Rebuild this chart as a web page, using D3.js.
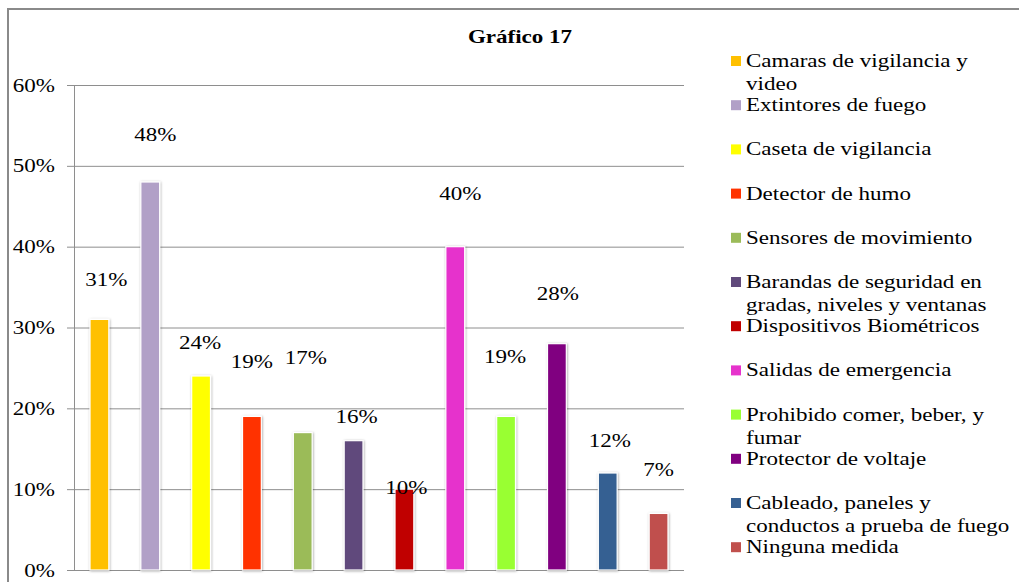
<!DOCTYPE html>
<html>
<head>
<meta charset="utf-8">
<script src="https://cdn.jsdelivr.net/npm/d3@7"></script>
<style>
  html, body { margin: 0; padding: 0; background: #fff; }
  svg { display: block; }
</style>
</head>
<body>
<svg id="chart" width="1019" height="582"></svg>
<script>
// Security measures reported (share of respondents)
const categories = [
  "Camaras de vigilancia y\nvideo",
  "Extintores de fuego",
  "Caseta de vigilancia",
  "Detector de humo",
  "Sensores de movimiento",
  "Barandas de seguridad en\ngradas, niveles y  ventanas",
  "Dispositivos Biométricos",
  "Salidas de emergencia",
  "Prohibido comer, beber, y\nfumar",
  "Protector de voltaje",
  "Cableado, paneles y\nconductos a prueba de fuego",
  "Ninguna medida"
];
const values = [0.31, 0.48, 0.24, 0.19, 0.17, 0.16, 0.10, 0.40, 0.19, 0.28, 0.12, 0.07];
const colors = ["#FFC000", "#B1A0C7", "#FFFF00", "#FF3300", "#9BBB59", "#604A7B",
                "#C00000", "#E633CC", "#99FF33", "#800080", "#366092", "#C0504D"];
const yTicks = [0, 0.1, 0.2, 0.3, 0.4, 0.5, 0.6];
const title = "Gráfico 17";

// Label placement nudges (px) relative to bar centre / bar top
const labelNudge = [[7, -39], [5, -47], [-1, -33], [0, -54], [3, -75], [3, -24],
                    [2, -1], [5, -53], [-1, -59], [1, -50], [2, -32], [0, -43]];

const SERIF = "'Liberation Serif', 'Times New Roman', 'DejaVu Serif', serif";
const STRETCH = 1.28;       // wide typeface look
const FONT = 18;

const svg = d3.select("#chart");
svg.append("rect").attr("width", 1019).attr("height", 582).attr("fill", "#fff");

// Drop shadow used around the bars
const defs = svg.append("defs");
const f = defs.append("filter").attr("id", "barShadow")
  .attr("x", "-30%").attr("y", "-10%").attr("width", "160%").attr("height", "120%");
f.append("feDropShadow").attr("dx", 0.6).attr("dy", 0.6)
  .attr("stdDeviation", 0.9).attr("flood-color", "#000").attr("flood-opacity", 0.35);

// Chart frame
svg.append("path")
  .attr("d", "M8,582 L8,9 L1019,9")
  .attr("fill", "none").attr("stroke", "#8a8a8a").attr("stroke-width", 2);

function wideText(parent, x, y, str, anchor, weight, size) {
  return parent.append("text")
    .attr("transform", `translate(${x},${y}) scale(${STRETCH},1)`)
    .attr("text-anchor", anchor || "start")
    .style("font-family", SERIF)
    .style("font-size", (size || FONT) + "px")
    .style("font-weight", weight || "normal")
    .attr("fill", "#000")
    .text(str);
}

const plotLeft = 74, plotRight = 684, plotTop = 85, plotBottom = 570;

const x = d3.scaleBand().domain(categories).range([plotLeft, plotRight])
  .paddingInner(0.63).paddingOuter(0.315);
const y = d3.scaleLinear().domain([0, 0.6]).range([plotBottom, plotTop]);

// Gridlines
const grid = svg.append("g").attr("transform", `translate(${plotLeft},0)`)
  .call(d3.axisLeft(y).tickValues(yTicks).tickSize(-(plotRight - plotLeft)).tickFormat(""));
grid.select(".domain").remove();
grid.selectAll("line").attr("stroke", "#8e8e8e").attr("stroke-width", 1);

// Y axis with outward tick stubs
const yAxis = svg.append("g").attr("transform", `translate(${plotLeft},0)`)
  .call(d3.axisLeft(y).tickValues(yTicks).tickSize(7).tickSizeOuter(0)
    .tickFormat(d3.format(".0%")));
yAxis.attr("font-family", null).attr("font-size", null);
yAxis.select(".domain").attr("stroke", "#8e8e8e");
yAxis.selectAll(".tick line").attr("stroke", "#8e8e8e");
yAxis.selectAll(".tick text")
  .style("font-family", SERIF)
  .style("font-size", FONT + "px")
  .attr("fill", "#000")
  .attr("text-anchor", "end")
  .attr("x", -19 / STRETCH).attr("dy", "0.34em")
  .attr("transform", `scale(${STRETCH},1)`);

// Bars
svg.append("g").selectAll("rect").data(values).join("rect")
  .attr("x", (d, i) => x(categories[i]))
  .attr("y", d => y(d))
  .attr("width", x.bandwidth())
  .attr("height", d => y(0) - y(d))
  .attr("fill", (d, i) => colors[i])
  .attr("stroke", "#fff").attr("stroke-width", 1.2)
  .attr("filter", "url(#barShadow)");

// Value labels
const labels = svg.append("g");
values.forEach((v, i) => {
  const cx = x(categories[i]) + x.bandwidth() / 2 + labelNudge[i][0];
  const cy = y(v) + labelNudge[i][1] + 6;
  wideText(labels, cx, cy, d3.format(".0%")(v), "middle");
});

// Title
wideText(svg, 520, 43, title, "middle", "bold");

// Legend
const legend = svg.append("g");
const legStart = 67, legStep = 44.2, legLine = 23;
categories.forEach((c, i) => {
  const by = legStart + i * legStep;
  legend.append("rect")
    .attr("x", 731).attr("y", by - 11).attr("width", 10).attr("height", 10)
    .attr("fill", colors[i]);
  c.split("\n").forEach((line, j) => {
    wideText(legend, 746, by + j * legLine, line, "start");
  });
});
</script>
</body>
</html>
